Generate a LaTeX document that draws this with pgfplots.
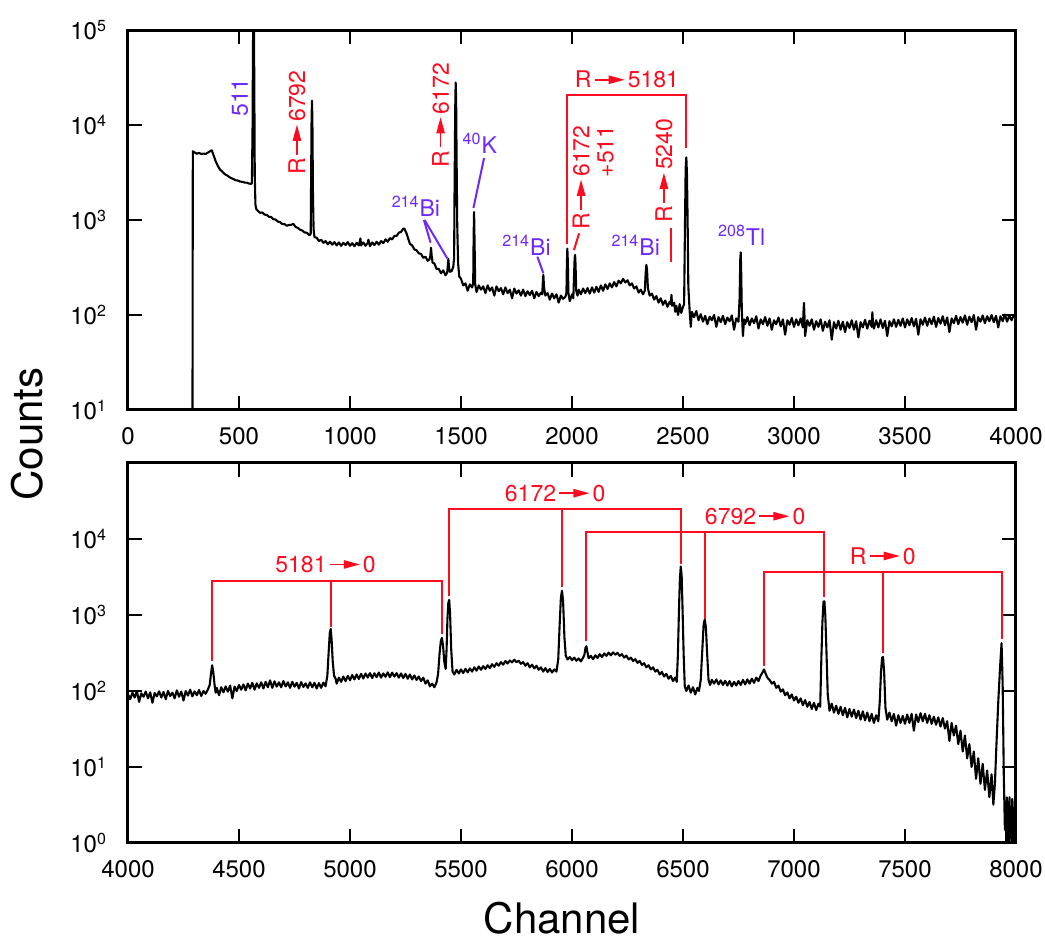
\documentclass[border=0pt]{standalone}
\usepackage{fontspec}
\setmainfont{TeX Gyre Heros}
\usepackage{pgfplots}
\pgfplotsset{compat=1.18}
\definecolor{ared}{RGB}{255,10,30}
\definecolor{apurple}{RGB}{110,40,255}
\newsavebox\rarrow
\sbox\rarrow{\tikz[baseline=0pt]{\fill[ared] (0pt,3.7pt) rectangle (8pt,4.5pt); \fill[ared] (7pt,1.9pt) -- (15pt,4.1pt) -- (7pt,6.3pt) -- cycle;}}
\newcommand\ra{\kern1.6pt\usebox\rarrow\kern1.6pt}
\newcommand\afont{\fontsize{11.5}{12}\selectfont}
\tikzset{
  spec/.style={black, line width=1.05pt, line join=round},
  rl/.style={ared, line width=1pt},
  pl/.style={apurple, line width=1pt},
}
\pgfplotsset{
  myaxis/.style={scale only axis, width=444pt, height=190pt,
    axis line style={line width=1.5pt},
    every tick/.style={black, line width=1pt}, major tick length=7pt,
    tick align=inside, yminorticks=false, xminorticks=false,
    xticklabel style={font=\fontsize{12}{14}\selectfont, yshift=-5pt},
    yticklabel style={font=\fontsize{12}{14}\selectfont, xshift=-7pt}},
}
\begin{document}
\begin{tikzpicture}
\useasboundingbox (-64pt,-49pt) rectangle (458.5pt,421.5pt);
% ---------------- top panel ----------------
\begin{axis}[myaxis, ymode=log, at={(0pt,216.5pt)}, anchor=south west,
  xmin=0, xmax=4000, ymin=10, ymax=100000,
  xtick={0,500,1000,1500,2000,2500,3000,3500,4000},
  xticklabels={0,500,1000,1500,2000,2500,3000,3500,4000},
  ytick={10,100,1000,10000,100000},
  yticklabels={10\textsuperscript{1},10\textsuperscript{2},10\textsuperscript{3},10\textsuperscript{4},10\textsuperscript{5}}]
\addplot[spec] table[row sep=\\] {
x y\\
290 1\\ 292 5300\\ 300 5150\\ 310 4980\\ 320 5080\\ 330 4950\\ 340 5000\\ 350 4960\\ 360 5120\\ 370 5300\\
377 5420\\ 385 4850\\ 395 4150\\ 405 3700\\ 415 3380\\ 425 3230\\ 435 3050\\ 445 2960\\ 455 2850\\ 465 2760\\
475 2700\\ 485 2620\\ 495 2600\\ 505 2540\\ 515 2520\\ 525 2480\\ 535 2470\\ 545 2420\\ 555 2400\\ 558 2450\\
561 9000\\ 563 70000\\ 565 160000\\ 567 160000\\ 569 25000\\ 571 3000\\ 574 1450\\ 578 1300\\ 585 1250\\ 595 1190\\
605 1200\\ 615 1140\\ 625 1130\\ 635 1080\\ 645 1075\\ 655 1020\\ 665 1010\\ 675 960\\ 685 955\\ 695 905\\
705 905\\ 715 870\\ 725 885\\ 735 890\\ 745 910\\ 755 845\\ 765 825\\ 775 790\\ 785 775\\ 795 740\\
805 735\\ 815 700\\ 820 695\\ 823 720\\ 825 3000\\ 827 12000\\ 829 18000\\ 831 9000\\ 833 2000\\ 836 800\\
840 660\\ 850 650\\ 860 600\\ 870 620\\ 880 575\\ 890 600\\ 900 555\\ 910 590\\ 920 550\\ 930 585\\
940 540\\ 950 580\\ 960 535\\ 970 575\\ 980 545\\ 990 585\\ 1000 535\\ 1010 570\\ 1020 530\\ 1030 575\\
1040 540\\ 1047 640\\ 1050 540\\ 1060 580\\ 1070 535\\ 1080 575\\ 1083 620\\ 1090 530\\ 1100 580\\ 1110 545\\
1120 590\\ 1130 550\\ 1140 600\\ 1150 570\\ 1160 625\\ 1170 590\\ 1180 645\\ 1190 625\\ 1200 680\\ 1210 680\\
1220 735\\ 1230 750\\ 1240 810\\ 1245 810\\ 1250 760\\ 1255 720\\ 1262 640\\ 1270 560\\ 1280 540\\ 1290 490\\
1300 480\\ 1310 445\\ 1320 440\\ 1330 400\\ 1340 410\\ 1350 372\\ 1358 385\\ 1362 420\\ 1365 510\\ 1368 420\\
1372 355\\ 1380 350\\ 1390 305\\ 1400 305\\ 1410 275\\ 1420 295\\ 1430 262\\ 1438 280\\ 1441 340\\ 1443 390\\
1446 320\\ 1450 285\\ 1458 290\\ 1465 320\\ 1469 400\\ 1471 2000\\ 1474 15000\\ 1476 28000\\ 1478 20000\\ 1480 5000\\
1483 900\\ 1487 350\\ 1492 255\\ 1500 240\\ 1510 205\\ 1520 215\\ 1530 180\\ 1540 210\\ 1550 195\\ 1555 215\\
1557 700\\ 1559 1210\\ 1561 600\\ 1564 210\\ 1570 175\\ 1580 205\\ 1590 185\\ 1600 200\\ 1610 170\\ 1620 205\\
1630 180\\ 1640 195\\ 1650 160\\ 1660 200\\ 1670 178\\ 1680 192\\ 1690 165\\ 1700 195\\ 1710 170\\ 1720 185\\
1730 150\\ 1740 190\\ 1750 168\\ 1760 182\\ 1770 160\\ 1780 185\\ 1790 158\\ 1800 178\\ 1810 162\\ 1820 180\\
1830 150\\ 1840 175\\ 1850 158\\ 1860 172\\ 1866 165\\ 1869 230\\ 1871 265\\ 1874 195\\ 1880 160\\ 1890 170\\
1900 145\\ 1910 168\\ 1920 150\\ 1930 165\\ 1940 135\\ 1950 160\\ 1960 148\\ 1970 155\\ 1975 170\\ 1977 350\\
1979 500\\ 1981 380\\ 1984 170\\ 1990 140\\ 2000 165\\ 2006 150\\ 2009 250\\ 2012 400\\ 2014 430\\ 2016 340\\
2019 180\\ 2025 160\\ 2030 185\\ 2040 165\\ 2050 190\\ 2060 170\\ 2070 192\\ 2080 168\\ 2090 195\\ 2100 172\\
2110 198\\ 2120 175\\ 2130 205\\ 2140 180\\ 2150 210\\ 2160 188\\ 2170 215\\ 2180 195\\ 2190 222\\ 2200 200\\
2210 230\\ 2220 215\\ 2230 240\\ 2240 220\\ 2250 232\\ 2260 205\\ 2270 215\\ 2280 190\\ 2290 200\\ 2300 172\\
2310 185\\ 2320 165\\ 2328 180\\ 2332 280\\ 2335 337\\ 2338 300\\ 2342 190\\ 2350 160\\ 2360 168\\ 2370 145\\
2380 158\\ 2390 135\\ 2400 150\\ 2410 128\\ 2420 142\\ 2430 122\\ 2440 138\\ 2445 130\\ 2448 163\\ 2451 125\\
2460 135\\ 2465 108\\ 2470 125\\ 2478 100\\ 2485 130\\ 2492 105\\ 2500 122\\ 2505 130\\ 2509 900\\ 2512 3500\\
2515 4570\\ 2518 3000\\ 2521 900\\ 2524 200\\ 2530 110\\ 2535 75\\ 2540 108\\ 2550 95\\ 2560 110\\ 2570 88\\
2580 102\\ 2590 85\\ 2600 98\\ 2610 80\\ 2620 96\\ 2630 88\\ 2640 100\\ 2650 75\\ 2660 95\\ 2670 84\\
2680 98\\ 2690 80\\ 2700 94\\ 2710 86\\ 2720 99\\ 2730 70\\ 2740 92\\ 2750 85\\ 2755 150\\ 2758 380\\
2760 457\\ 2762 300\\ 2765 110\\ 2770 60\\ 2775 90\\ 2780 80\\ 2790 95\\ 2800 78\\ 2810 92\\ 2820 82\\
2830 97\\ 2840 72\\ 2850 90\\ 2860 80\\ 2870 95\\ 2880 77\\ 2890 92\\ 2900 70\\ 2910 88\\ 2920 80\\
2930 94\\ 2940 76\\ 2950 90\\ 2960 62\\ 2970 88\\ 2980 79\\ 2990 93\\ 3000 75\\ 3010 90\\ 3020 78\\
3030 92\\ 3040 74\\ 3043 110\\ 3045 134\\ 3047 100\\ 3050 60\\ 3060 88\\ 3070 77\\ 3080 90\\ 3090 70\\
3100 86\\ 3110 75\\ 3120 90\\ 3130 68\\ 3140 85\\ 3150 74\\ 3160 88\\ 3170 55\\ 3180 84\\ 3190 72\\
3200 87\\ 3210 70\\ 3220 85\\ 3230 66\\ 3240 84\\ 3250 73\\ 3260 88\\ 3270 70\\ 3280 86\\ 3290 58\\
3300 84\\ 3310 74\\ 3320 89\\ 3330 72\\ 3340 87\\ 3350 75\\ 3353 107\\ 3356 80\\ 3360 72\\ 3370 88\\
3380 74\\ 3390 90\\ 3400 73\\ 3410 87\\ 3420 60\\ 3430 86\\ 3440 76\\ 3450 90\\ 3460 75\\ 3470 89\\
3480 77\\ 3490 92\\ 3500 74\\ 3510 90\\ 3520 78\\ 3530 93\\ 3540 76\\ 3550 91\\ 3560 62\\ 3570 90\\
3580 79\\ 3590 94\\ 3600 77\\ 3610 92\\ 3620 80\\ 3630 96\\ 3640 75\\ 3650 93\\ 3660 81\\ 3670 97\\
3680 78\\ 3690 94\\ 3700 66\\ 3710 92\\ 3720 82\\ 3730 98\\ 3740 80\\ 3750 95\\ 3760 83\\ 3770 99\\
3780 79\\ 3790 96\\ 3800 84\\ 3810 100\\ 3820 70\\ 3830 95\\ 3840 85\\ 3850 99\\ 3860 82\\ 3870 97\\
3880 86\\ 3890 100\\ 3900 84\\ 3910 98\\ 3920 74\\ 3930 97\\ 3940 86\\ 3950 101\\ 3960 85\\ 3970 99\\
3980 88\\ 3990 100\\ 4000 90\\
};
\node[apurple, rotate=90, font=\afont] at (axis cs:504,19500) {511};
\node[ared, rotate=90, font=\afont] at (axis cs:761,10600) {R\ra6792};
\node[ared, rotate=90, font=\afont] at (axis cs:1408,12700) {R\ra6172};
\node[apurple, font=\afont] at (axis cs:1297,1400) {\textsuperscript{214}Bi};
\draw[pl] (axis cs:1333,1000) -- (axis cs:1363,577);
\draw[pl] (axis cs:1336,1000) -- (axis cs:1438,395);
\node[apurple, font=\afont] at (axis cs:1585,6470) {\textsuperscript{40}K};
\draw[pl] (axis cs:1604,4500) -- (axis cs:1556,1336);
\node[apurple, font=\afont] at (axis cs:1795,546) {\textsuperscript{214}Bi};
\draw[pl] (axis cs:1844,411) -- (axis cs:1871,275);
\node[ared, rotate=90, font=\afont, align=right] at (axis cs:2095,2800) {R\ra6172\\+511};
\draw[rl] (axis cs:2032,724) -- (axis cs:2009,483);
\node[apurple, font=\afont] at (axis cs:2287,546) {\textsuperscript{214}Bi};
\node[ared, rotate=90, font=\afont] at (axis cs:2414,3300) {R\ra5240};
\draw[rl] (axis cs:2447,818) -- (axis cs:2447,364);
\draw[rl] (axis cs:1979,558) -- (axis cs:1979,20700) -- (axis cs:2515,20700) -- (axis cs:2515,5690);
\node[ared, font=\afont, anchor=base, yshift=3.5pt] at (axis cs:2247,20700) {R\ra5181};
\node[apurple, font=\afont] at (axis cs:2764,695) {\textsuperscript{208}Tl};
\end{axis}
% ---------------- bottom panel ----------------
\begin{axis}[myaxis, ymode=log, at={(0pt,0pt)}, anchor=south west,
  xmin=4000, xmax=8000, ymin=1, ymax=100000,
  xtick={4000,4500,5000,5500,6000,6500,7000,7500,8000},
  xticklabels={4000,4500,5000,5500,6000,6500,7000,7500,8000},
  ytick={1,10,100,1000,10000},
  yticklabels={10\textsuperscript{0},10\textsuperscript{1},10\textsuperscript{2},10\textsuperscript{3},10\textsuperscript{4}}]
\addplot[spec] table[row sep=\\] {
x y\\
4000 90\\ 4010 78\\ 4020 95\\ 4030 82\\ 4040 100\\ 4050 72\\ 4060 93\\ 4070 84\\ 4080 98\\ 4090 80\\
4100 96\\ 4110 70\\ 4120 94\\ 4130 85\\ 4140 99\\ 4150 82\\ 4160 97\\ 4170 78\\ 4180 100\\ 4190 86\\
4200 95\\ 4210 80\\ 4220 102\\ 4230 84\\ 4240 98\\ 4250 75\\ 4260 100\\ 4270 87\\ 4280 104\\ 4290 85\\
4300 99\\ 4310 88\\ 4320 103\\ 4330 86\\ 4340 100\\ 4350 92\\ 4360 105\\ 4368 120\\ 4374 170\\ 4379 218\\
4384 180\\ 4390 120\\ 4395 95\\ 4400 110\\ 4410 88\\ 4420 112\\ 4430 96\\ 4440 115\\ 4450 98\\ 4460 118\\
4470 80\\ 4480 114\\ 4490 100\\ 4500 120\\ 4510 104\\ 4520 122\\ 4530 102\\ 4540 125\\ 4550 108\\ 4560 128\\
4570 104\\ 4580 126\\ 4590 110\\ 4600 130\\ 4610 108\\ 4620 132\\ 4630 112\\ 4640 138\\ 4650 110\\ 4660 134\\
4670 114\\ 4680 130\\ 4690 112\\ 4700 135\\ 4710 115\\ 4720 130\\ 4730 110\\ 4740 132\\ 4750 114\\ 4760 128\\
4770 108\\ 4780 131\\ 4790 113\\ 4800 126\\ 4810 110\\ 4820 130\\ 4830 112\\ 4840 128\\ 4850 108\\ 4860 127\\
4870 110\\ 4880 129\\ 4890 115\\ 4898 160\\ 4904 330\\ 4909 580\\ 4913 657\\ 4917 480\\ 4922 250\\ 4928 160\\
4935 145\\ 4940 125\\ 4950 150\\ 4960 132\\ 4970 155\\ 4980 135\\ 4990 158\\ 5000 138\\ 5010 162\\ 5020 142\\
5030 165\\ 5040 144\\ 5050 168\\ 5060 146\\ 5070 170\\ 5080 150\\ 5090 172\\ 5100 148\\ 5110 171\\ 5120 152\\
5130 175\\ 5140 150\\ 5150 170\\ 5160 154\\ 5170 176\\ 5180 152\\ 5190 174\\ 5200 155\\ 5210 172\\ 5220 150\\
5230 170\\ 5240 148\\ 5250 168\\ 5260 145\\ 5270 165\\ 5280 142\\ 5290 160\\ 5300 140\\ 5310 155\\ 5320 135\\
5330 150\\ 5340 125\\ 5350 138\\ 5360 115\\ 5370 125\\ 5380 112\\ 5390 130\\ 5397 170\\ 5403 300\\ 5409 450\\
5414 500\\ 5419 400\\ 5425 240\\ 5431 195\\ 5435 350\\ 5439 900\\ 5443 1450\\ 5447 1580\\ 5451 1000\\ 5456 350\\
5462 180\\ 5470 165\\ 5480 190\\ 5490 170\\ 5500 192\\ 5510 172\\ 5520 196\\ 5530 176\\ 5540 198\\ 5550 180\\
5560 205\\ 5570 185\\ 5580 210\\ 5590 190\\ 5600 212\\ 5610 195\\ 5620 218\\ 5630 200\\ 5640 225\\ 5650 208\\
5660 232\\ 5670 215\\ 5680 240\\ 5690 222\\ 5700 248\\ 5710 230\\ 5720 252\\ 5730 238\\ 5740 258\\ 5750 240\\
5760 250\\ 5770 228\\ 5780 240\\ 5790 215\\ 5800 232\\ 5810 205\\ 5820 222\\ 5830 198\\ 5840 215\\ 5850 190\\
5860 205\\ 5870 180\\ 5880 200\\ 5890 178\\ 5900 195\\ 5910 175\\ 5920 192\\ 5930 180\\ 5938 260\\ 5944 700\\
5950 1700\\ 5955 2090\\ 5960 1500\\ 5966 500\\ 5972 290\\ 5980 260\\ 5990 280\\ 6000 255\\ 6010 275\\ 6020 250\\
6030 268\\ 6040 245\\ 6050 275\\ 6056 300\\ 6061 370\\ 6065 388\\ 6069 330\\ 6075 270\\ 6085 290\\ 6095 262\\
6105 295\\ 6115 272\\ 6125 305\\ 6135 280\\ 6145 312\\ 6155 290\\ 6165 320\\ 6175 295\\ 6185 322\\ 6195 300\\
6205 318\\ 6215 290\\ 6225 305\\ 6235 275\\ 6245 292\\ 6255 260\\ 6265 275\\ 6275 248\\ 6285 262\\ 6295 235\\
6305 248\\ 6315 220\\ 6325 232\\ 6335 205\\ 6345 218\\ 6355 192\\ 6365 205\\ 6375 180\\ 6385 190\\ 6395 165\\
6405 178\\ 6415 155\\ 6425 168\\ 6435 145\\ 6445 158\\ 6455 135\\ 6465 150\\ 6472 132\\ 6477 300\\ 6482 1200\\
6486 3000\\ 6490 4350\\ 6494 3300\\ 6498 1200\\ 6503 300\\ 6508 115\\ 6515 100\\ 6525 118\\ 6535 95\\ 6545 112\\
6555 90\\ 6565 110\\ 6572 100\\ 6580 140\\ 6587 350\\ 6593 750\\ 6598 870\\ 6603 700\\ 6609 300\\ 6615 140\\
6622 120\\ 6630 140\\ 6640 125\\ 6650 142\\ 6660 122\\ 6670 138\\ 6680 120\\ 6690 136\\ 6700 118\\ 6710 135\\
6720 115\\ 6730 132\\ 6740 118\\ 6750 135\\ 6760 120\\ 6770 140\\ 6780 122\\ 6790 142\\ 6800 125\\ 6810 145\\
6820 128\\ 6830 150\\ 6840 135\\ 6850 160\\ 6858 175\\ 6865 192\\ 6872 170\\ 6880 150\\ 6890 140\\ 6900 125\\
6910 132\\ 6920 110\\ 6930 118\\ 6940 98\\ 6950 105\\ 6960 88\\ 6970 96\\ 6980 80\\ 6990 90\\ 7000 75\\
7010 84\\ 7020 70\\ 7030 80\\ 7040 65\\ 7050 76\\ 7060 62\\ 7070 72\\ 7080 58\\ 7090 70\\ 7100 56\\
7110 68\\ 7118 62\\ 7123 250\\ 7128 800\\ 7133 1500\\ 7137 1510\\ 7141 1000\\ 7146 350\\ 7152 90\\ 7160 55\\
7170 68\\ 7180 52\\ 7190 64\\ 7200 50\\ 7210 62\\ 7220 48\\ 7230 60\\ 7240 45\\ 7250 58\\ 7260 46\\
7270 57\\ 7280 44\\ 7290 55\\ 7300 42\\ 7310 54\\ 7320 41\\ 7330 52\\ 7340 40\\ 7350 50\\ 7360 38\\
7370 48\\ 7380 40\\ 7386 70\\ 7392 180\\ 7397 275\\ 7401 280\\ 7406 180\\ 7412 60\\ 7420 42\\ 7430 52\\
7440 40\\ 7450 50\\ 7460 35\\ 7470 48\\ 7480 38\\ 7490 47\\ 7500 37\\ 7510 49\\ 7520 38\\ 7530 50\\
7540 30\\ 7550 49\\ 7560 39\\ 7570 51\\ 7580 40\\ 7590 50\\ 7600 38\\ 7610 48\\ 7620 37\\ 7630 46\\
7640 36\\ 7650 45\\ 7660 34\\ 7670 44\\ 7680 32\\ 7690 40\\ 7700 22\\ 7710 38\\ 7720 26\\ 7730 35\\
7740 20\\ 7750 30\\ 7760 16\\ 7770 26\\ 7780 13\\ 7790 20\\ 7800 10\\ 7810 16\\ 7820 7\\ 7830 13\\
7840 6\\ 7850 11\\ 7860 5\\ 7870 9\\ 7880 4\\ 7890 8\\ 7898 3.2\\ 7905 6\\ 7912 20\\ 7920 70\\
7928 200\\ 7935 427\\ 7940 120\\ 7945 8\\ 7950 1.5\\ 7953 3.5\\ 7956 1\\ 7959 4\\ 7962 1\\ 7965 3\\
7968 1\\ 7971 4\\ 7974 1.2\\ 7977 3\\ 7980 1\\ 7983 3.8\\ 7986 1\\ 7989 2.5\\ 7992 1\\ 7995 3.5\\
7998 1\\ 8000 2\\
};
\draw[rl] (axis cs:4379,248) -- (axis cs:4379,2830) -- (axis cs:5414,2830) -- (axis cs:5414,562);
\draw[rl] (axis cs:4913,2830) -- (axis cs:4913,702);
\node[ared, font=\afont, anchor=base, yshift=4pt] at (axis cs:4890,2830) {5181\ra0};
\draw[rl] (axis cs:5447,1795) -- (axis cs:5447,24500) -- (axis cs:6490,24500) -- (axis cs:6490,4650);
\draw[rl] (axis cs:5955,24500) -- (axis cs:5955,2310);
\node[ared, font=\afont, anchor=base, yshift=4pt] at (axis cs:5924,24500) {6172\ra0};
\draw[rl] (axis cs:6065,461) -- (axis cs:6065,12200) -- (axis cs:7137,12200) -- (axis cs:7137,1700);
\draw[rl] (axis cs:6598,12200) -- (axis cs:6598,896);
\node[ared, font=\afont, anchor=base, yshift=4pt] at (axis cs:6825,12200) {6792\ra0};
\draw[rl] (axis cs:6865,212) -- (axis cs:6865,3660) -- (axis cs:7935,3660) -- (axis cs:7935,490);
\draw[rl] (axis cs:7400,3660) -- (axis cs:7400,318);
\node[ared, font=\afont, anchor=base, yshift=4pt] at (axis cs:7400,3660) {R\ra0};
\end{axis}
\node[rotate=90, font=\fontsize{21}{24}\selectfont] at (-50.5pt,204.5pt) {Counts};
\node[font=\fontsize{21}{24}\selectfont, inner sep=0pt, anchor=base] at (217pt,-45.5pt) {Channel};
\end{tikzpicture}
\end{document}
